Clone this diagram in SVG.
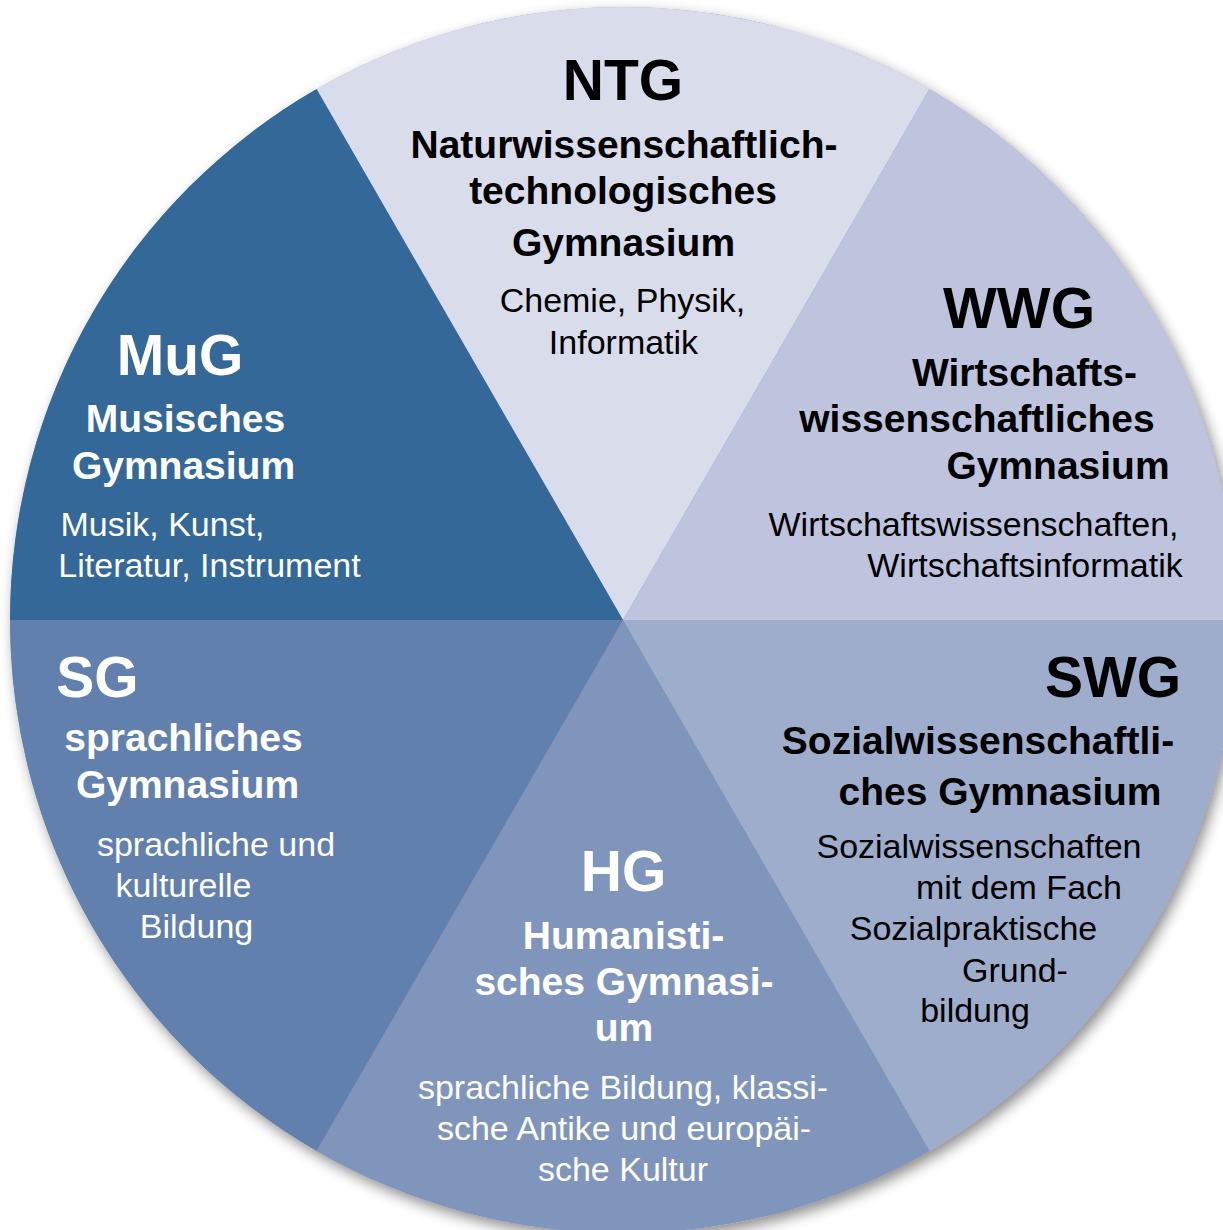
<svg xmlns="http://www.w3.org/2000/svg" width="1223" height="1230" viewBox="0 0 1223 1230">
  <defs>
    <filter id="shadow" x="-10%" y="-10%" width="120%" height="120%">
      <feDropShadow dx="4" dy="6" stdDeviation="7" flood-color="#000" flood-opacity="0.45"/>
    </filter>
  </defs>
  <style>
    text { font-family: "Liberation Sans", Arial, Helvetica, sans-serif; text-anchor: middle; }
    .t { font-weight: bold; font-size: 57px; }
    .s { font-weight: bold; font-size: 39px; }
    .d { font-size: 34px; }
    .dark text { fill: #000; }
    .light text { fill: #fff; }
  </style>
  <rect width="1223" height="1230" fill="#fff"/>
  <circle cx="623" cy="620" r="613" fill="#8a9cc2" filter="url(#shadow)"/>

  <g id="NTG" class="dark">
    <path d="M623,620 L316.5,89.1 A613,613 0 0 1 929.5,89.1 Z" fill="#d9dcea"/>
    <text class="t" x="623" y="100">NTG</text>
    <text class="s" x="624" y="158">Naturwissenschaftlich-</text>
    <text class="s" x="623" y="204">technologisches</text>
    <text class="s" x="623.5" y="256">Gymnasium</text>
    <text class="d" x="622.5" y="312">Chemie, Physik,</text>
    <text class="d" x="623.5" y="354">Informatik</text>
  </g>

  <g id="WWG" class="dark">
    <path d="M623,620 L929.5,89.1 A613,613 0 0 1 1236,620 Z" fill="#bec4de"/>
    <text class="t" x="1019" y="328">WWG</text>
    <text class="s" x="1024.5" y="386">Wirtschafts-</text>
    <text class="s" x="977" y="432">wissenschaftliches</text>
    <text class="s" x="1058" y="479">Gymnasium</text>
    <text class="d" x="973.5" y="536">Wirtschaftswissenschaften,</text>
    <text class="d" x="1025" y="577">Wirtschaftsinformatik</text>
  </g>

  <g id="SWG" class="dark">
    <path d="M623,620 L1236,620 A613,613 0 0 1 929.5,1150.9 Z" fill="#9fadcd"/>
    <text class="t" x="1113" y="697">SWG</text>
    <text class="s" x="978" y="754">Sozialwissenschaftli-</text>
    <text class="s" x="1000" y="805">ches Gymnasium</text>
    <text class="d" x="979" y="858">Sozialwissenschaften</text>
    <text class="d" x="1019" y="899">mit dem Fach</text>
    <text class="d" x="973.5" y="940">Sozialpraktische</text>
    <text class="d" x="1015" y="982">Grund-</text>
    <text class="d" x="975" y="1022">bildung</text>
  </g>

  <g id="HG" class="light">
    <path d="M623,620 L929.5,1150.9 A613,613 0 0 1 316.5,1150.9 Z" fill="#8095bc"/>
    <text class="t" x="623.5" y="891">HG</text>
    <text class="s" x="623.5" y="949">Humanisti-</text>
    <text class="s" x="624" y="995">sches Gymnasi-</text>
    <text class="s" x="624" y="1041">um</text>
    <text class="d" x="623" y="1099">sprachliche Bildung, klassi-</text>
    <text class="d" x="624" y="1140">sche Antike und europäi-</text>
    <text class="d" x="623" y="1181">sche Kultur</text>
  </g>

  <g id="SG" class="light">
    <path d="M623,620 L316.5,1150.9 A613,613 0 0 1 10,620 Z" fill="#6180ad"/>
    <text class="t" x="97.5" y="697">SG</text>
    <text class="s" x="183.5" y="751">sprachliches</text>
    <text class="s" x="187.5" y="798">Gymnasium</text>
    <text class="d" x="216" y="856">sprachliche und</text>
    <text class="d" x="183.5" y="897">kulturelle</text>
    <text class="d" x="196.5" y="938">Bildung</text>
  </g>

  <g id="MuG" class="light">
    <path d="M623,620 L10,620 A613,613 0 0 1 316.5,89.1 Z" fill="#336899"/>
    <text class="t" x="180" y="375">MuG</text>
    <text class="s" x="185.5" y="432">Musisches</text>
    <text class="s" x="183.5" y="479">Gymnasium</text>
    <text class="d" x="162.5" y="536">Musik, Kunst,</text>
    <text class="d" x="209.5" y="577">Literatur, Instrument</text>
  </g>

  <g id="connectors"/>
</svg>
